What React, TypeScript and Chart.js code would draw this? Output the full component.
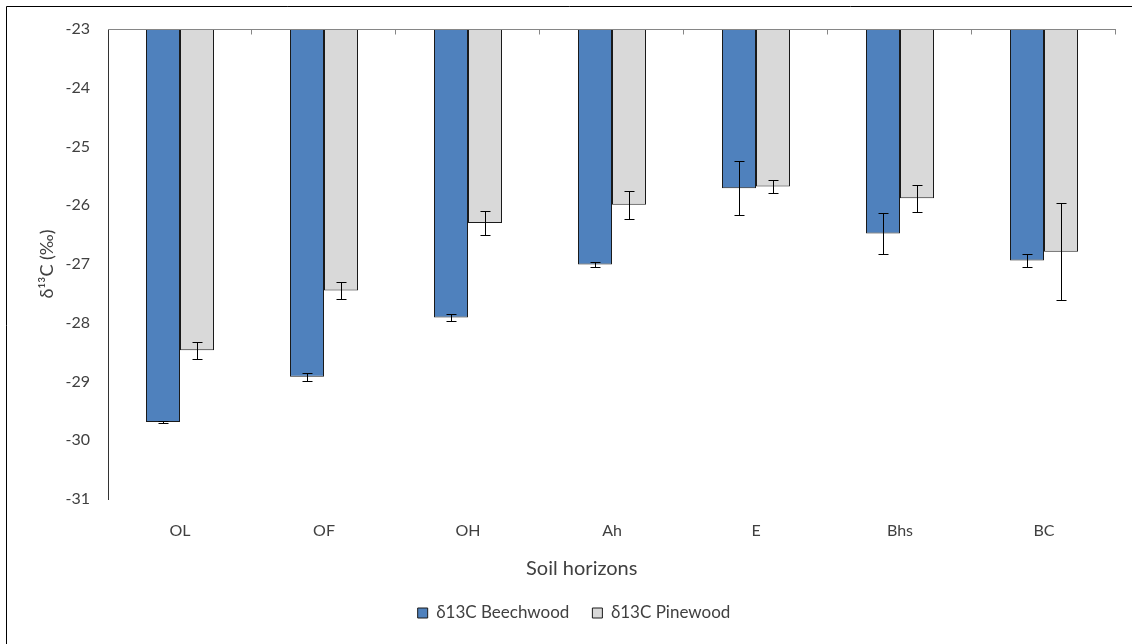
import React, { useEffect, useRef } from "react";
import { Chart, registerables } from "chart.js";

Chart.register(...registerables);

const horizons = ["OL", "OF", "OH", "Ah", "E", "Bhs", "BC"];
const beechwood = [-29.69, -28.92, -27.91, -27.01, -25.71, -26.48, -26.94];
const beechwoodErr = [0.02, 0.065, 0.06, 0.045, 0.46, 0.35, 0.11];
const pinewood = [-28.47, -27.45, -26.3, -25.99, -25.68, -25.88, -26.79];
const pinewoodErr = [0.15, 0.15, 0.2, 0.24, 0.115, 0.23, 0.83];
const yMin = -31;
const yMax = -23;
const yStep = 1;
const seriesNames = ["δ13C Beechwood", "δ13C Pinewood"];
const xTitle = "Soil horizons";
const yTitle = "δ¹³C (‰)";

const FONT = "Lato";
const TEXT = "#404040";

const framePlugin = {
  id: "frame",
  beforeDraw(chart: any) {
    const ctx = chart.ctx;
    ctx.save();
    ctx.fillStyle = "#ffffff";
    ctx.fillRect(0, 0, chart.width, chart.height);
    ctx.strokeStyle = "#000000";
    ctx.lineWidth = 1;
    ctx.beginPath();
    ctx.moveTo(6.5, chart.height);
    ctx.lineTo(6.5, 6.5);
    ctx.lineTo(chart.width, 6.5);
    ctx.stroke();
    ctx.restore();
  },
};

const topAxisPlugin = {
  id: "topAxis",
  afterDatasetsDraw(chart: any) {
    const ctx = chart.ctx;
    const area = chart.chartArea;
    const n = horizons.length;
    const w = (area.right - area.left) / n;
    ctx.save();
    ctx.strokeStyle = "#868686";
    ctx.lineWidth = 1;
    const y = Math.round(area.top) + 0.5;
    ctx.beginPath();
    ctx.moveTo(area.left, y);
    ctx.lineTo(area.right, y);
    for (let k = 1; k <= n; k++) {
      const x = Math.round(area.left + k * w) - 0.5;
      ctx.moveTo(x, y);
      ctx.lineTo(x, y + 5);
    }
    ctx.stroke();
    ctx.restore();
  },
};

const xTitlePlugin = {
  id: "xTitle",
  afterDraw(chart: any) {
    const ctx = chart.ctx;
    const area = chart.chartArea;
    ctx.save();
    ctx.fillStyle = TEXT;
    ctx.font = `20px ${FONT}`;
    ctx.textAlign = "center";
    ctx.textBaseline = "middle";
    ctx.fillText(xTitle, area.left + (area.right - area.left) * 0.47, area.bottom + 70);
    ctx.restore();
  },
};

const errorBarPlugin = {
  id: "errorBars",
  afterDatasetsDraw(chart: any) {
    const ctx = chart.ctx;
    const ys = chart.scales.y;
    chart.data.datasets.forEach((ds: any, di: number) => {
      const meta = chart.getDatasetMeta(di);
      meta.data.forEach((bar: any, i: number) => {
        const v = ds.data[i];
        const e = ds.errors[i];
        const x = Math.round(bar.x) + 0.5;
        const yt = Math.round(ys.getPixelForValue(v + e)) + 0.5;
        const yb = Math.round(ys.getPixelForValue(v - e)) + 0.5;
        ctx.save();
        ctx.strokeStyle = "#000000";
        ctx.lineWidth = 1;
        ctx.beginPath();
        ctx.moveTo(x, yt);
        ctx.lineTo(x, yb);
        ctx.moveTo(x - 5, yt);
        ctx.lineTo(x + 5, yt);
        ctx.moveTo(x - 5, yb);
        ctx.lineTo(x + 5, yb);
        ctx.stroke();
        ctx.restore();
      });
    });
  },
};

export default function App() {
  const ref = useRef<HTMLCanvasElement | null>(null);

  useEffect(() => {
    if (!ref.current) return;
    const chart = new Chart(ref.current, {
      type: "bar",
      data: {
        labels: horizons,
        datasets: [
          {
            label: seriesNames[0],
            data: beechwood,
            errors: beechwoodErr,
            backgroundColor: "#4F81BD",
            borderColor: "#1a1a1a",
            borderWidth: 1,
            base: yMax,
            barPercentage: 1,
            categoryPercentage: 68 / 144,
          } as any,
          {
            label: seriesNames[1],
            data: pinewood,
            errors: pinewoodErr,
            backgroundColor: "#D9D9D9",
            borderColor: "#1a1a1a",
            borderWidth: 1,
            base: yMax,
            barPercentage: 1,
            categoryPercentage: 68 / 144,
          } as any,
        ],
      },
      options: {
        responsive: false,
        animation: false,
        layout: { padding: { left: 32, top: 29, right: 16, bottom: 12.5 } },
        plugins: {
          tooltip: { enabled: false },
          legend: {
            position: "bottom",
            labels: {
              boxWidth: 10,
              boxHeight: 10,
              padding: 23,
              color: TEXT,
              font: { family: FONT, size: 17 },
            },
          },
        },
        scales: {
          x: {
            type: "category",
            offset: true,
            grid: { display: false, drawTicks: false },
            border: { display: false },
            ticks: {
              color: TEXT,
              padding: 22,
              font: { family: FONT, size: 16 },
            },
            afterFit(scale: any) {
              scale.height = 82.5;
            },
          },
          y: {
            min: yMin,
            max: yMax,
            grid: { display: false, drawTicks: false },
            border: { display: true, color: "#333333", width: 1 },
            ticks: {
              stepSize: yStep,
              color: TEXT,
              padding: 18,
              font: { family: FONT, size: 16 },
            },
            title: {
              display: true,
              text: yTitle,
              color: TEXT,
              padding: { top: 4, bottom: 0 },
              font: { family: FONT, size: 18 },
            },
            afterFit(scale: any) {
              scale.width = 76;
            },
          },
        },
      },
      plugins: [framePlugin, topAxisPlugin, errorBarPlugin, xTitlePlugin],
    });
    return () => chart.destroy();
  }, []);

  return (
    <div style={{ position: "absolute", left: 0, top: 0, width: 1132, height: 644 }}>
      <canvas ref={ref} width={1132} height={644} style={{ display: "block" }} />
    </div>
  );
}
